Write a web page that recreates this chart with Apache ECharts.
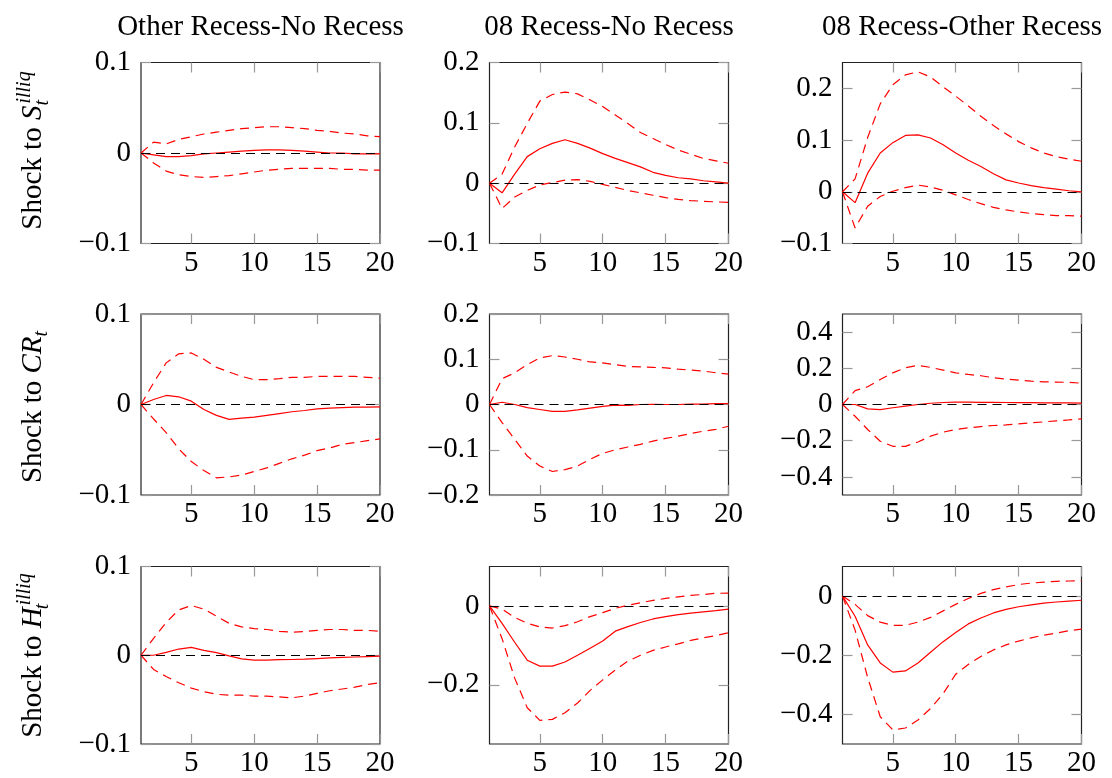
<!DOCTYPE html>
<html><head><meta charset="utf-8">
<script src="https://cdn.jsdelivr.net/npm/echarts@6/dist/echarts.min.js"></script>
<style>html,body{margin:0;padding:0;background:#fff}#c{width:1112px;height:778px}</style>
</head><body><div id="c"></div>
<script>
// ---------------- data ----------------
const horizons = [1,2,3,4,5,6,7,8,9,10,11,12,13,14,15,16,17,18,19,20];
const colTitles = ['Other Recess-No Recess','08 Recess-No Recess','08 Recess-Other Recess'];
const xTicks = [5,10,15,20];

// Row 1: shock to S_t^illiq
const s_c1_lo  = [0,-0.011,-0.020,-0.024,-0.026,-0.027,-0.026,-0.025,-0.023,-0.021,-0.019,-0.018,-0.017,-0.017,-0.017,-0.017,-0.018,-0.018,-0.019,-0.019];
const s_c1_mid = [0,-0.002,-0.004,-0.004,-0.003,-0.001,0.000,0.001,0.002,0.003,0.0035,0.0035,0.003,0.002,0.001,0.000,0.000,-0.001,-0.001,-0.001];
const s_c1_up  = [0,0.012,0.010,0.015,0.018,0.021,0.023,0.025,0.027,0.028,0.029,0.029,0.028,0.027,0.025,0.024,0.022,0.021,0.019,0.018];
const s_c2_lo  = [0,-0.042,-0.023,-0.012,-0.003,0.001,0.005,0.006,0.003,-0.002,-0.007,-0.012,-0.016,-0.020,-0.024,-0.027,-0.029,-0.030,-0.031,-0.032];
const s_c2_mid = [0,-0.016,0.015,0.044,0.057,0.066,0.072,0.066,0.058,0.049,0.041,0.034,0.027,0.018,0.013,0.009,0.007,0.004,0.002,0.000];
const s_c2_up  = [0,0.015,0.060,0.099,0.136,0.147,0.151,0.148,0.138,0.127,0.113,0.099,0.084,0.074,0.064,0.055,0.048,0.041,0.037,0.033];
const s_c3_lo  = [0,-0.070,-0.028,-0.009,0.001,0.008,0.013,0.009,0.003,-0.006,-0.015,-0.023,-0.030,-0.035,-0.039,-0.042,-0.044,-0.046,-0.046,-0.047];
const s_c3_mid = [0,-0.021,0.036,0.075,0.095,0.109,0.110,0.104,0.091,0.075,0.061,0.049,0.035,0.023,0.017,0.012,0.008,0.005,0.002,0.000];
const s_c3_up  = [0,0.025,0.105,0.170,0.207,0.226,0.232,0.222,0.203,0.185,0.166,0.146,0.128,0.112,0.097,0.085,0.075,0.068,0.063,0.059];

// Row 2: shock to CR_t
const cr_c1_lo  = [0,-0.016,-0.031,-0.049,-0.063,-0.073,-0.081,-0.080,-0.078,-0.074,-0.070,-0.065,-0.060,-0.056,-0.051,-0.048,-0.044,-0.042,-0.040,-0.038];
const cr_c1_mid = [0,0.0055,0.010,0.0085,0.0037,-0.0055,-0.012,-0.0165,-0.015,-0.014,-0.012,-0.010,-0.008,-0.0066,-0.0048,-0.004,-0.0035,-0.003,-0.0028,-0.0026];
const cr_c1_up  = [0,0.024,0.046,0.056,0.057,0.050,0.041,0.036,0.031,0.0275,0.0275,0.0286,0.030,0.030,0.031,0.031,0.031,0.031,0.030,0.029];
const cr_c2_lo  = [0,-0.040,-0.077,-0.114,-0.136,-0.148,-0.144,-0.136,-0.121,-0.108,-0.100,-0.094,-0.088,-0.081,-0.075,-0.070,-0.064,-0.059,-0.055,-0.048];
const cr_c2_mid = [0,0.005,0.000,-0.007,-0.011,-0.015,-0.015,-0.012,-0.008,-0.004,-0.0015,-0.002,0.000,0.0005,0.000,0.000,0.001,0.001,0.002,0.002];
const cr_c2_up  = [0,0.057,0.070,0.088,0.103,0.108,0.105,0.100,0.094,0.092,0.088,0.084,0.083,0.082,0.081,0.078,0.076,0.074,0.070,0.067];
const cr_c3_lo  = [0,-0.065,-0.138,-0.203,-0.231,-0.231,-0.207,-0.175,-0.153,-0.138,-0.129,-0.122,-0.116,-0.113,-0.107,-0.101,-0.096,-0.090,-0.085,-0.079];
const cr_c3_mid = [0,0.000,-0.024,-0.028,-0.018,-0.009,0.000,0.007,0.011,0.013,0.013,0.012,0.012,0.011,0.010,0.010,0.009,0.009,0.009,0.008];
const cr_c3_up  = [0,0.077,0.098,0.138,0.175,0.203,0.216,0.205,0.190,0.175,0.166,0.159,0.148,0.140,0.135,0.129,0.125,0.124,0.122,0.118];

// Row 3: shock to H_t^illiq
const h_c1_lo  = [0,-0.016,-0.024,-0.031,-0.037,-0.041,-0.044,-0.045,-0.045,-0.046,-0.046,-0.047,-0.048,-0.046,-0.043,-0.040,-0.038,-0.036,-0.033,-0.031];
const h_c1_mid = [0,0.000,0.0033,0.007,0.0089,0.0055,0.003,-0.0007,-0.004,-0.0055,-0.0055,-0.005,-0.0048,-0.0044,-0.0037,-0.003,-0.0025,-0.002,-0.0015,-0.001];
const h_c1_up  = [0,0.019,0.037,0.051,0.056,0.052,0.044,0.036,0.032,0.030,0.029,0.027,0.026,0.0266,0.028,0.029,0.029,0.028,0.028,0.027];
const h_c2_lo  = [0,-0.083,-0.183,-0.258,-0.290,-0.2875,-0.271,-0.246,-0.214,-0.1875,-0.1625,-0.140,-0.125,-0.1125,-0.104,-0.096,-0.0875,-0.081,-0.075,-0.068];
const h_c2_mid = [0,-0.044,-0.092,-0.1375,-0.1525,-0.1525,-0.142,-0.125,-0.107,-0.089,-0.064,-0.0525,-0.042,-0.033,-0.027,-0.022,-0.018,-0.015,-0.012,-0.008];
const h_c2_up  = [0,-0.008,-0.029,-0.044,-0.053,-0.056,-0.050,-0.040,-0.027,-0.017,-0.006,0.002,0.008,0.014,0.019,0.023,0.027,0.029,0.032,0.0325];
const h_c3_lo  = [0,-0.115,-0.275,-0.408,-0.452,-0.446,-0.419,-0.380,-0.330,-0.264,-0.231,-0.204,-0.182,-0.165,-0.152,-0.141,-0.132,-0.125,-0.117,-0.112];
const h_c3_mid = [0,-0.068,-0.165,-0.226,-0.257,-0.253,-0.226,-0.190,-0.154,-0.123,-0.094,-0.074,-0.057,-0.045,-0.036,-0.030,-0.024,-0.020,-0.017,-0.014];
const h_c3_up  = [0,-0.028,-0.066,-0.088,-0.099,-0.099,-0.088,-0.072,-0.050,-0.028,-0.008,0.009,0.022,0.031,0.039,0.044,0.047,0.050,0.051,0.052];

// y-axis extents and tick labels per panel (row-major)
const yMin   = [-0.1,-0.1,-0.1,  -0.1,-0.2,-0.5,  -0.1,-0.35,-0.5];
const yMax   = [ 0.1, 0.2, 0.25,  0.1, 0.2, 0.5,   0.1, 0.1, 0.1];
const yTicks = [
  [-0.1,0,0.1], [-0.1,0,0.1,0.2], [-0.1,0,0.1,0.2],
  [-0.1,0,0.1], [-0.2,-0.1,0,0.1,0.2], [-0.4,-0.2,0,0.2,0.4],
  [-0.1,0,0.1], [-0.2,0], [-0.4,-0.2,0]
];

const panels = [
  [s_c1_lo,s_c1_mid,s_c1_up],[s_c2_lo,s_c2_mid,s_c2_up],[s_c3_lo,s_c3_mid,s_c3_up],
  [cr_c1_lo,cr_c1_mid,cr_c1_up],[cr_c2_lo,cr_c2_mid,cr_c2_up],[cr_c3_lo,cr_c3_mid,cr_c3_up],
  [h_c1_lo,h_c1_mid,h_c1_up],[h_c2_lo,h_c2_mid,h_c2_up],[h_c3_lo,h_c3_mid,h_c3_up]
];

// ---------------- layout / style ----------------
const FONT = "'Liberation Serif', 'Times New Roman', serif";
const FS = 29;
const colLeft = [141, 489.5, 842.5];
const rowTop = [62.5, 314, 566.5];
const W = 239, H = 181;
const RED = '#ff0000';
const TICK_COLOR = '#999999';
const MID = 0.3375; // canvas 'middle' -> baseline offset (em)

function tick(values){ return {inside: true, length: 10, customValues: values, lineStyle: {color: TICK_COLOR, width: 1.2}}; }
function fmt(v){ return v === 0 ? '0' : (v < 0 ? '\u2212' : '') + String(Math.abs(v)); }

const grids = [], xAxes = [], yAxes = [], series = [], graphics = [];
for (let r = 0; r < 3; r++) {
  for (let c = 0; c < 3; c++) {
    const i = r*3 + c;
    grids.push({left: colLeft[c], top: rowTop[r], width: W, height: H, show: true,
      borderColor: '#222', borderWidth: 1.2, backgroundColor: 'transparent'});
    xAxes.push({gridIndex: i, type: 'value', min: 1, max: 20, position: 'bottom',
      axisLine: {show: false, onZero: false}, splitLine: {show: false},
      axisTick: tick(xTicks),
      axisLabel: {customValues: xTicks, margin: 5, fontFamily: FONT, fontSize: FS, color: '#000'}});
    xAxes.push({gridIndex: i, type: 'value', min: 1, max: 20, position: 'top',
      axisLine: {show: false, onZero: false}, splitLine: {show: false},
      axisTick: tick(xTicks), axisLabel: {show: false}});
    yAxes.push({gridIndex: i, type: 'value', min: yMin[i], max: yMax[i], position: 'left',
      axisLine: {show: false, onZero: false}, splitLine: {show: false},
      axisTick: tick(yTicks[i]),
      axisLabel: {customValues: yTicks[i], margin: 10, formatter: fmt, fontFamily: FONT, fontSize: FS, color: '#000'}});
    yAxes.push({gridIndex: i, type: 'value', min: yMin[i], max: yMax[i], position: 'right',
      axisLine: {show: false, onZero: false}, splitLine: {show: false},
      axisTick: tick(yTicks[i]), axisLabel: {show: false}});
    const [lo, mid, up] = panels[i];
    const mk = (arr) => horizons.map((h, k) => [h, arr[k]]);
    const base = {type: 'line', xAxisIndex: 2*i, yAxisIndex: 2*i, showSymbol: false, symbol: 'none', silent: true, animation: false};
    series.push(Object.assign({}, base, {data: mk(lo), lineStyle: {color: RED, width: 1.2, type: [9, 6]}}));
    series.push(Object.assign({}, base, {data: mk(up), lineStyle: {color: RED, width: 1.2, type: [9, 6]}}));
    series.push(Object.assign({}, base, {data: mk(mid), lineStyle: {color: RED, width: 1.2},
      markLine: {silent: true, symbol: ['none','none'], label: {show: false}, animation: false,
        lineStyle: {color: '#000', width: 1.1, type: [9, 6]}, data: [{yAxis: 0}]}}));
  }
}

// column titles
for (let c = 0; c < 3; c++) {
  graphics.push({type: 'text', x: colLeft[c] + W/2, y: 37 - MID*FS, silent: true,
    style: {text: colTitles[c], font: FS + 'px ' + FONT, fill: '#000', align: 'center', verticalAlign: 'middle'}});
}

// row labels (rotated, with sub/superscripts)
const ctx = document.createElement('canvas').getContext('2d');
function tw(t, italic, size){ ctx.font = (italic ? 'italic ' : '') + size + 'px ' + FONT; return ctx.measureText(t).width; }
const SS = 20;
const rowLabels = [
  {sym: 'S', sub: 't', sup: 'illiq', center: 150.5},
  {sym: 'CR', sub: 't', sup: null, center: 407},
  {sym: 'H', sub: 't', sup: 'illiq', center: 655.5}
];
rowLabels.forEach((rl) => {
  const pieces = [];
  const wA = tw('Shock to ', false, FS);
  const wB = tw(rl.sym, true, FS);
  pieces.push({t: 'Shock to ', it: false, s: FS, x: 0, b: 0});
  pieces.push({t: rl.sym, it: true, s: FS, x: wA, b: 0});
  let end = wA + wB;
  const subX = wA + wB - (rl.sym === 'H' ? 2 : 0);
  pieces.push({t: rl.sub, it: true, s: SS, x: subX, b: rl.sup ? 6 : 5});
  end = Math.max(end, subX + tw(rl.sub, true, SS));
  if (rl.sup) {
    const supX = wA + wB + 2;
    pieces.push({t: rl.sup, it: true, s: SS, x: supX, b: -12});
    end = Math.max(end, supX + tw(rl.sup, true, SS));
  }
  graphics.push({type: 'group', x: 43.5, y: rl.center + end/2, rotation: Math.PI/2, silent: true,
    children: pieces.map(p => ({type: 'text', x: p.x, y: p.b - MID*p.s,
      style: {text: p.t, font: (p.it ? 'italic ' : '') + p.s + 'px ' + FONT, fill: '#000', align: 'left', verticalAlign: 'middle'}}))});
});

const chart = echarts.init(document.getElementById('c'), null, {renderer: 'canvas'});
chart.setOption({
  animation: false,
  backgroundColor: '#fff',
  grid: grids, xAxis: xAxes, yAxis: yAxes, series: series, graphic: graphics
});
</script>
</body></html>
